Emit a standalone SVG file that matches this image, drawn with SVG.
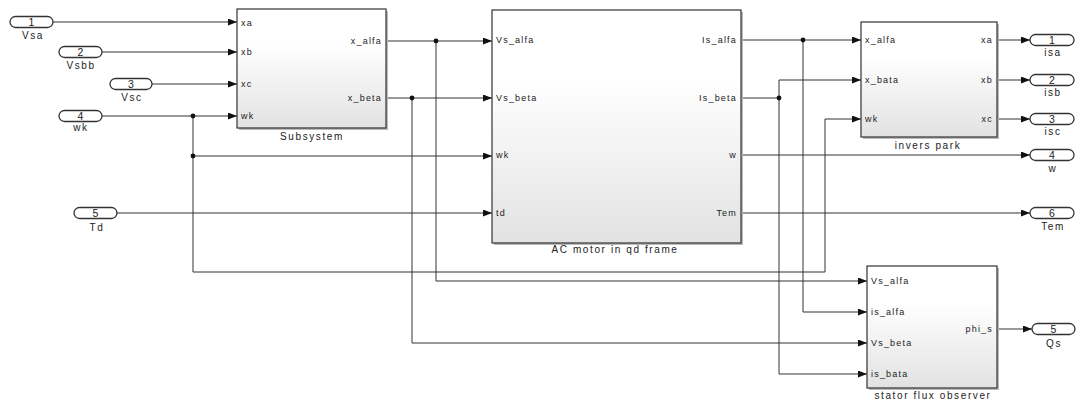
<svg xmlns="http://www.w3.org/2000/svg" width="1079" height="401" viewBox="0 0 1079 401">
<style>
.blk{fill:url(#g);stroke:#333;stroke-width:1.2}
.sh{fill:#bbb}
.w{fill:none;stroke:#333;stroke-width:1}
.pl{font-family:"Liberation Sans",Arial,sans-serif;font-size:9px;letter-spacing:1.2px;fill:#222}
.bl{font-family:"Liberation Sans",Arial,sans-serif;font-size:10px;letter-spacing:1.6px;fill:#222;text-anchor:middle}
.io{fill:#fff;stroke:#333;stroke-width:1.3}
.num{font-family:"Liberation Sans",Arial,sans-serif;font-size:10.5px;fill:#222;text-anchor:middle}
.e{text-anchor:end}
</style>
<defs>
<linearGradient id="g" x1="0" y1="0" x2="0" y2="1">
<stop offset="0.3" stop-color="#ffffff"/>
<stop offset="1" stop-color="#e2e2e2"/>
</linearGradient>
<marker id="a" markerUnits="userSpaceOnUse" markerWidth="9" markerHeight="7" refX="9" refY="3.5" orient="auto">
<path d="M0,0 L9,3.5 L0,7 z" fill="#111"/>
</marker>
</defs>
<rect width="1079" height="401" fill="#fff"/>
<g id="connectors">
<path class="w" marker-end="url(#a)" d="M53,22 H237"/>
<path class="w" marker-end="url(#a)" d="M102,52 H237"/>
<path class="w" marker-end="url(#a)" d="M152,84 H237"/>
<path class="w" marker-end="url(#a)" d="M102,116 H237"/>
<path class="w" marker-end="url(#a)" d="M193,116 V272 H825 V119 H861"/>
<path class="w" marker-end="url(#a)" d="M193,156 H492"/>
<path class="w" marker-end="url(#a)" d="M117,213 H492"/>
<path class="w" marker-end="url(#a)" d="M386,41 H492"/>
<path class="w" marker-end="url(#a)" d="M436,41 V281 H867"/>
<path class="w" marker-end="url(#a)" d="M386,98 H492"/>
<path class="w" marker-end="url(#a)" d="M412,98 V343 H867"/>
<path class="w" marker-end="url(#a)" d="M741,40 H861"/>
<path class="w" marker-end="url(#a)" d="M803,40 V312 H867"/>
<path class="w" marker-end="url(#a)" d="M741,98 H779 V80 H861"/>
<path class="w" marker-end="url(#a)" d="M779,98 V374 H867"/>
<path class="w" marker-end="url(#a)" d="M741,155 H1030"/>
<path class="w" marker-end="url(#a)" d="M741,213 H1030"/>
<path class="w" marker-end="url(#a)" d="M997,40 H1030"/>
<path class="w" marker-end="url(#a)" d="M997,80 H1030"/>
<path class="w" marker-end="url(#a)" d="M997,119 H1030"/>
<path class="w" marker-end="url(#a)" d="M997,329 H1032"/>
<g fill="#111">
<circle cx="193" cy="116" r="2.4"/>
<circle cx="193" cy="156" r="2.4"/>
<circle cx="436" cy="41" r="2.4"/>
<circle cx="412" cy="98" r="2.4"/>
<circle cx="803" cy="40" r="2.4"/>
<circle cx="779" cy="98" r="2.4"/>
</g>
</g>
<g id="in1"><rect class="io" x="10" y="16.5" width="43" height="11" rx="5.5"/><text class="num" x="31.5" y="25.5">1</text><text class="bl" x="33" y="39">Vsa</text></g>
<g id="in2"><rect class="io" x="59" y="46.5" width="43" height="11" rx="5.5"/><text class="num" x="80.5" y="55.5">2</text><text class="bl" x="81" y="69">Vsbb</text></g>
<g id="in3"><rect class="io" x="110" y="78.5" width="42" height="11" rx="5.5"/><text class="num" x="131" y="87.5">3</text><text class="bl" x="132" y="101">Vsc</text></g>
<g id="in4"><rect class="io" x="59" y="110.5" width="43" height="11" rx="5.5"/><text class="num" x="80.5" y="119.5">4</text><text class="bl" x="81" y="131">wk</text></g>
<g id="in5"><rect class="io" x="74" y="207.5" width="43" height="11" rx="5.5"/><text class="num" x="95.5" y="216.5">5</text><text class="bl" x="97" y="231">Td</text></g>
<g id="subsystem">
<rect class="sh" x="239" y="11" width="149" height="119"/>
<rect class="blk" x="237" y="9" width="149" height="119"/>
<text class="pl" x="241" y="26">xa</text>
<text class="pl" x="241" y="55">xb</text>
<text class="pl" x="241" y="87">xc</text>
<text class="pl" x="241" y="119">wk</text>
<text class="pl e" x="382" y="44">x_alfa</text>
<text class="pl e" x="382" y="101">x_beta</text>
<text class="bl" x="312" y="140">Subsystem</text>
</g>
<g id="acmotor">
<rect class="sh" x="494" y="12" width="249" height="233"/>
<rect class="blk" x="492" y="10" width="249" height="233"/>
<text class="pl" x="496" y="43">Vs_alfa</text>
<text class="pl" x="496" y="101">Vs_beta</text>
<text class="pl" x="496" y="158">wk</text>
<text class="pl" x="496" y="216">td</text>
<text class="pl e" x="737" y="43">Is_alfa</text>
<text class="pl e" x="737" y="101">Is_beta</text>
<text class="pl e" x="737" y="158">w</text>
<text class="pl e" x="737" y="216">Tem</text>
<text class="bl" x="615" y="253">AC motor in qd frame</text>
</g>
<g id="inverspark">
<rect class="sh" x="863" y="24" width="136" height="115"/>
<rect class="blk" x="861" y="22" width="136" height="115"/>
<text class="pl" x="865" y="43">x_alfa</text>
<text class="pl" x="865" y="83">x_bata</text>
<text class="pl" x="865" y="122">wk</text>
<text class="pl e" x="993" y="43">xa</text>
<text class="pl e" x="993" y="83">xb</text>
<text class="pl e" x="993" y="122">xc</text>
<text class="bl" x="928" y="149">invers park</text>
</g>
<g id="observer">
<rect class="sh" x="869" y="268" width="130" height="122"/>
<rect class="blk" x="867" y="266" width="130" height="122"/>
<text class="pl" x="871" y="284">Vs_alfa</text>
<text class="pl" x="871" y="315">is_alfa</text>
<text class="pl" x="871" y="346">Vs_beta</text>
<text class="pl" x="871" y="377">is_bata</text>
<text class="pl e" x="993" y="332">phi_s</text>
<text class="bl" x="933" y="399">stator flux observer</text>
</g>
<g id="out1"><rect class="io" x="1030" y="34.5" width="44" height="11" rx="5.5"/><text class="num" x="1052" y="43.5">1</text><text class="bl" x="1053" y="56">isa</text></g>
<g id="out2"><rect class="io" x="1030" y="74.5" width="44" height="11" rx="5.5"/><text class="num" x="1052" y="83.5">2</text><text class="bl" x="1053" y="96">isb</text></g>
<g id="out3"><rect class="io" x="1030" y="113.5" width="44" height="11" rx="5.5"/><text class="num" x="1052" y="122.5">3</text><text class="bl" x="1053" y="135">isc</text></g>
<g id="out4"><rect class="io" x="1030" y="149.5" width="44" height="11" rx="5.5"/><text class="num" x="1052" y="158.5">4</text><text class="bl" x="1053" y="172">w</text></g>
<g id="out6"><rect class="io" x="1030" y="207.5" width="44" height="11" rx="5.5"/><text class="num" x="1052" y="216.5">6</text><text class="bl" x="1053" y="230">Tem</text></g>
<g id="out5"><rect class="io" x="1032" y="323.5" width="43" height="11" rx="5.5"/><text class="num" x="1053.5" y="332.5">5</text><text class="bl" x="1054" y="347">Qs</text></g>
</svg>
